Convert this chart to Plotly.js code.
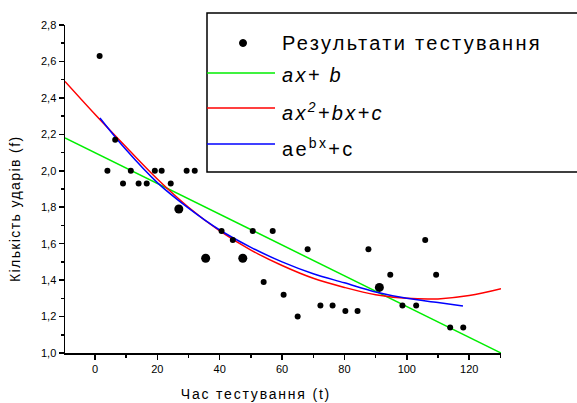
<!DOCTYPE html>
<html>
<head>
<meta charset="utf-8">
<script src="https://cdn.plot.ly/plotly-3.0.1.min.js"></script>
<style>
html,body{margin:0;padding:0;background:#fff;}
#chart{width:577px;height:403px;}
g.annotation[data-index="0"] text,
g.annotation[data-index="1"] text,
g.annotation[data-index="2"] text,
g.annotation[data-index="3"] text{letter-spacing:2.3px;}
g.annotation[data-index="4"] text{letter-spacing:1.8px;}
g.annotation[data-index="5"] text{letter-spacing:1.4px;}
</style>
</head>
<body>
<div id="chart"></div>
<script>
// Test results (regular points)
const tPoints = [1.5, 4, 6.5, 9, 11.5, 14, 16.6, 19.2, 21.4, 24.3, 29.4, 32, 40.6, 44.2, 50.6, 54.1, 57, 60.5, 65, 68.2, 72.3, 76.2, 80.3, 84.2, 87.7, 94.7, 98.6, 103, 105.9, 109.4, 113.9, 118.1];
const fPoints = [2.63, 2.0, 2.17, 1.93, 2.0, 1.93, 1.93, 2.0, 2.0, 1.93, 2.0, 2.0, 1.67, 1.62, 1.67, 1.39, 1.67, 1.32, 1.2, 1.57, 1.26, 1.26, 1.23, 1.23, 1.57, 1.43, 1.26, 1.26, 1.62, 1.43, 1.14, 1.14];
// Test results drawn with larger dots
const tBig = [26.9, 35.5, 47.4, 91.2];
const fBig = [1.79, 1.52, 1.52, 1.36];
// Linear fit  ax+b
const tLin = [-9.6, 130.2];
const fLin = [2.18, 1.0];
// Quadratic fit  ax^2+bx+c
const tQuad = [-9.6, 0, 10, 20, 30, 40, 50, 60, 70, 80, 90, 100, 110, 120, 130.2];
const fQuad = [2.49, 2.31, 2.13, 1.955, 1.80, 1.67, 1.565, 1.48, 1.41, 1.36, 1.32, 1.30, 1.297, 1.315, 1.353];
// Exponential fit  ae^bx+c
const tExp = [1.6, 10, 20, 30, 40, 50, 60, 70, 80, 90, 100, 110, 118];
const fExp = [2.29, 2.115, 1.935, 1.795, 1.675, 1.58, 1.50, 1.435, 1.385, 1.335, 1.30, 1.277, 1.258];
// Legend labels and tick labels
const legendLabels = ['Результати тестування', '<i>ax+ b</i>', '<i>ax<sup>2</sup>+bx+c</i>', 'ae<sup>bx</sup>+c'];
const xTicks = [0, 20, 40, 60, 80, 100, 120];
const yTicks = [1.0, 1.2, 1.4, 1.6, 1.8, 2.0, 2.2, 2.4, 2.6, 2.8];

const FONT = '"Liberation Sans", Arial, sans-serif';

const traces = [
  {x: tLin, y: fLin, mode: 'lines', line: {color: '#00ee00', width: 1.5}, showlegend: false, name: legendLabels[1]},
  {x: tQuad, y: fQuad, mode: 'lines', line: {color: '#ff0000', width: 1.5, shape: 'spline'}, showlegend: false, name: legendLabels[2]},
  {x: tExp, y: fExp, mode: 'lines', line: {color: '#0000ff', width: 1.5, shape: 'spline'}, showlegend: false, name: legendLabels[3]},
  {x: tPoints, y: fPoints, mode: 'markers', marker: {color: '#000', size: 6, symbol: 'circle'}, showlegend: false, name: legendLabels[0]},
  {x: tBig, y: fBig, mode: 'markers', marker: {color: '#000', size: 9, symbol: 'circle'}, showlegend: false, name: legendLabels[0]}
];

// helpers: pixel -> paper for the legend box
const L = 65, R = 76, T = 25, B = 50, W = 577, H = 403;
const pw = W - L - R, ph = H - T - B;
const px = v => (v - L) / pw;
const py = v => (H - B - v) / ph;

const legColors = ['#00ee00', '#ff0000', '#0000ff'];
const rowY = [43, 73, 108, 144];
const textY = [43, 75, 111, 147];

const shapes = [
  {type: 'rect', xref: 'paper', yref: 'paper', x0: px(207), x1: px(590), y0: py(172), y1: py(13), line: {color: '#000', width: 1.5}, fillcolor: 'rgba(0,0,0,0)'},
  {type: 'circle', xref: 'paper', yref: 'paper', x0: px(239.5), x1: px(246.5), y0: py(46.5), y1: py(39.5), line: {color: '#000', width: 1}, fillcolor: '#000'}
];
for (let i = 0; i < 3; i++) {
  shapes.push({type: 'line', xref: 'paper', yref: 'paper', x0: px(207), x1: px(275), y0: py(rowY[i + 1]), y1: py(rowY[i + 1]), line: {color: legColors[i], width: 1.5}});
}

const annotations = legendLabels.map((txt, i) => ({
  xref: 'paper', yref: 'paper', x: px(280), y: py(textY[i]), xanchor: 'left', yanchor: 'middle', align: 'left',
  text: txt, showarrow: false, font: {family: FONT, size: 20, color: '#000'}
}));
annotations.push({
  xref: 'paper', yref: 'paper', x: px(256), y: py(394), xanchor: 'center', yanchor: 'middle',
  text: 'Час тестування (t)', showarrow: false, font: {family: FONT, size: 14, color: '#000'}
});
annotations.push({
  xref: 'paper', yref: 'paper', x: px(15), y: py(209), xanchor: 'center', yanchor: 'middle', textangle: -90,
  text: 'Кількість ударів (f)', showarrow: false, font: {family: FONT, size: 14, color: '#000'}
});

const layout = {
  width: W, height: H,
  margin: {l: L, r: R, t: T, b: B, pad: 0},
  paper_bgcolor: '#fff', plot_bgcolor: '#fff',
  separators: ',.',
  showlegend: false,
  font: {family: FONT, size: 11, color: '#000'},
  xaxis: {
    range: [-9.6, 130.2], tickvals: xTicks, ticktext: xTicks.map(String),
    ticks: 'outside', ticklen: 5, tickwidth: 1.5, tickcolor: '#000',
    minor: {dtick: 10, tick0: 0, ticks: 'outside', ticklen: 3, tickwidth: 1.5, tickcolor: '#000'},
    showline: true, linecolor: '#000', linewidth: 1.5, showgrid: false, zeroline: false,
    tickfont: {family: FONT, size: 11, color: '#000'}
  },
  yaxis: {
    range: [1.0, 2.8], tickvals: yTicks, tickformat: '.1f',
    ticks: 'outside', ticklen: 5, tickwidth: 1.5, tickcolor: '#000',
    minor: {dtick: 0.1, tick0: 0, ticks: 'outside', ticklen: 3, tickwidth: 1.5, tickcolor: '#000'},
    showline: true, linecolor: '#000', linewidth: 1.5, showgrid: false, zeroline: false,
    tickfont: {family: FONT, size: 11, color: '#000'}
  },
  shapes: shapes,
  annotations: annotations
};

Plotly.newPlot('chart', traces, layout, {displayModeBar: false, staticPlot: true});
</script>
</body>
</html>
